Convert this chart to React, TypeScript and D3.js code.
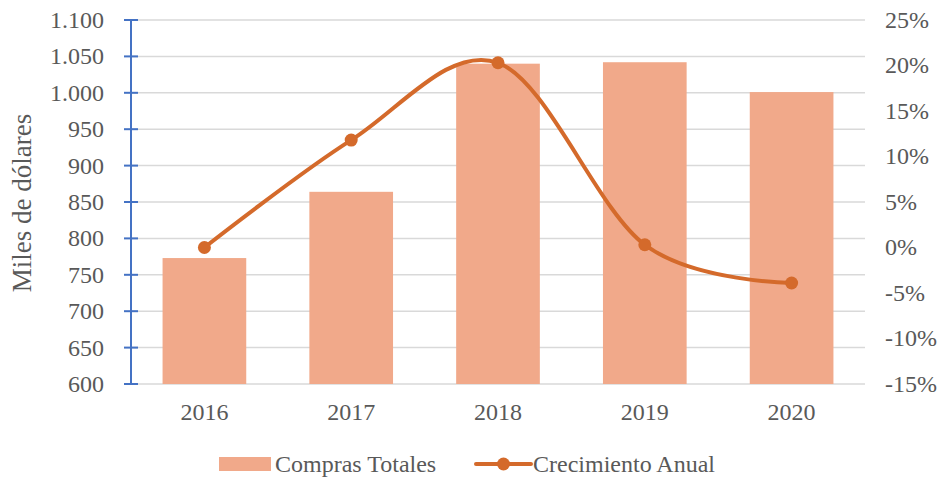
import React from "react";
import * as d3 from "d3";

const years = ["2016", "2017", "2018", "2019", "2020"];
const compras = [773, 864, 1040, 1042, 1001];
const crecimiento = [0.0, 11.8, 20.3, 0.3, -3.9];
const leftTicks = [600, 650, 700, 750, 800, 850, 900, 950, 1000, 1050, 1100];
const rightTicks = [-15, -10, -5, 0, 5, 10, 15, 20, 25];

const W = 940, H = 478;
const L = 131, R = 865, T = 20, B = 384;
const font = "'Liberation Serif', 'Times New Roman', serif";
const txt = "#595959";
const barColor = "#F1A98A";
const lineColor = "#D46A2B";

const fmtLeft = (v: number) => (v >= 1000 ? d3.format(",")(v).replace(",", ".") : String(v));

export default function App() {
  const x = d3.scaleBand().domain(years).range([L, R]).paddingInner(0.43).paddingOuter(0.215);
  const xc = (y: string) => (x(y) as number) + x.bandwidth() / 2;
  const yl = d3.scaleLinear().domain([600, 1100]).range([B, T]);
  const yr = d3.scaleLinear().domain([-15, 25]).range([B, T]);
  const line = d3
    .line<number>()
    .x((_, i) => xc(years[i]))
    .y((d) => yr(d))
    .curve(d3.curveCardinal.tension(0));
  return (
    <svg width={W} height={H} style={{ position: "absolute", left: 0, top: 0 }}>
      <rect width={W} height={H} fill="#fff" />
      {leftTicks.map((t) => (
        <line key={t} x1={L} x2={R} y1={yl(t)} y2={yl(t)} stroke="#D9D9D9" strokeWidth={1.5} />
      ))}
      {years.map((y, i) => (
        <rect key={y} x={x(y)} y={yl(compras[i])} width={x.bandwidth()} height={B - yl(compras[i])} fill={barColor} />
      ))}
      <line x1={L} x2={L} y1={T} y2={B} stroke="#4472C4" strokeWidth={2} />
      {leftTicks.map((t) => (
        <line key={"lt" + t} x1={L - 7} x2={L + 7} y1={yl(t)} y2={yl(t)} stroke="#4472C4" strokeWidth={2} />
      ))}
      <path d={line(crecimiento) || ""} fill="none" stroke={lineColor} strokeWidth={4} strokeLinecap="round" />
      {crecimiento.map((v, i) => (
        <circle key={i} cx={xc(years[i])} cy={yr(v)} r={6.5} fill={lineColor} />
      ))}
      {leftTicks.map((t) => (
        <text key={"l" + t} x={104} y={yl(t)} dy="0.33em" textAnchor="end" fontFamily={font} fontSize={24} fill={txt}>
          {fmtLeft(t)}
        </text>
      ))}
      {rightTicks.map((t) => (
        <text key={"r" + t} x={885} y={yr(t)} dy="0.33em" textAnchor="start" fontFamily={font} fontSize={24} fill={txt}>
          {t + "%"}
        </text>
      ))}
      {years.map((y) => (
        <text key={"x" + y} x={xc(y)} y={420} textAnchor="middle" fontFamily={font} fontSize={24} fill={txt}>
          {y}
        </text>
      ))}
      <text transform={`translate(31,${(T + B) / 2 + 1}) rotate(-90)`} textAnchor="middle" fontFamily={font} fontSize={27} fill={txt}>
        Miles de dólares
      </text>
      <rect x={219} y={457} width={52} height={14} fill={barColor} />
      <text x={275} y={472} fontFamily={font} fontSize={24} fill={txt}>Compras Totales</text>
      <line x1={476} x2={531} y1={464} y2={464} stroke={lineColor} strokeWidth={4} strokeLinecap="round" />
      <circle cx={503.5} cy={464} r={6.5} fill={lineColor} />
      <text x={533} y={472} fontFamily={font} fontSize={24} fill={txt}>Crecimiento Anual</text>
    </svg>
  );
}
